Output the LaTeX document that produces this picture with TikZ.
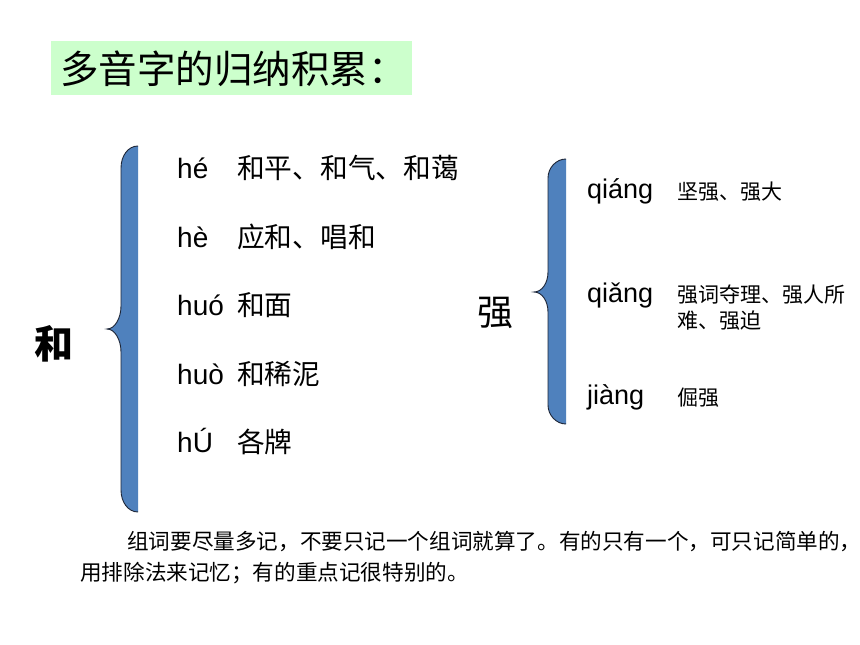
\documentclass[tikz,border=0pt]{standalone}
\usepackage{fontspec}
\setmainfont{Liberation Sans}
\newfontfamily\cjk{Noto Sans CJK SC}
\definecolor{bracefill}{RGB}{79,129,189}
\definecolor{braceline}{RGB}{30,38,55}
\definecolor{titlegreen}{RGB}{204,255,204}
\tikzset{
  py/.style={anchor=base west, inner sep=0pt, font=\fontsize{28}{32}\selectfont},
  cnbig/.style={anchor=base west, inner sep=0pt, font=\cjk\fontsize{27.7}{32}\selectfont},
  pyr/.style={anchor=base west, inner sep=0pt, font=\fontsize{27}{32}\selectfont},
  cnsmall/.style={anchor=base west, inner sep=0pt, font=\cjk\fontsize{21}{25}\selectfont},
  para/.style={anchor=base west, inner sep=0pt, font=\cjk\fontsize{21.6}{25}\selectfont},
  bracefillstyle/.style={fill=bracefill},
  bracelinestyle/.style={draw=braceline, line width=0.9pt},
}
\begin{document}
\begin{tikzpicture}[x=1pt,y=-1pt]
\useasboundingbox (0,0) rectangle (860,645);
\fill[white] (0,0) rectangle (860,645);

% title
\fill[titlegreen] (51,41) rectangle (412,95);
\node[anchor=base west, inner sep=0pt, font=\cjk\fontsize{38.5}{42}\selectfont] (title) at (60,83) {多音字的归纳积累：};

% left brace
\fill[bracefillstyle] (138,146) .. controls (128,146) and (121,156) .. (121,168) -- (121,306)
  .. controls (121,318) and (115,329) .. (107,329) .. controls (115,329) and (121,340) .. (121,352)
  -- (121,490) .. controls (121,502) and (128,512) .. (138,512) -- cycle;
\draw[bracelinestyle] (138,146) .. controls (128,146) and (121,156) .. (121,168) -- (121,306)
  .. controls (121,318) and (115,329) .. (107,329) .. controls (115,329) and (121,340) .. (121,352)
  -- (121,490) .. controls (121,502) and (128,512) .. (138,512);

% right brace
\fill[bracefillstyle] (566,159) .. controls (556,159) and (548,168) .. (548,178) -- (548,272)
  .. controls (548,283) and (542,292) .. (534,292) .. controls (542,292) and (548,301) .. (548,312)
  -- (548,405) .. controls (548,415) and (556,424) .. (566,424) -- cycle;
\draw[bracelinestyle] (566,159) .. controls (556,159) and (548,168) .. (548,178) -- (548,272)
  .. controls (548,283) and (542,292) .. (534,292) .. controls (542,292) and (548,301) .. (548,312)
  -- (548,405) .. controls (548,415) and (556,424) .. (566,424);

% big characters
\node[anchor=center, inner sep=0pt, font=\cjk\bfseries\fontsize{39}{44}\selectfont] (he) at (54,344) {和};
\node[anchor=center, inner sep=0pt, font=\cjk\fontsize{36}{40}\selectfont] (qiang) at (495,313) {强};

% left list
\node[py] (p1) at (177,178) {hé};
\node[cnbig] (c1) at (237,178) {和平、和气、和蔼};
\node[py] (p2) at (177,247) {hè};
\node[cnbig] (c2) at (237,247) {应和、唱和};
\node[py] (p3) at (177,315) {huó};
\node[cnbig] (c3) at (237,315) {和面};
\node[py] (p4) at (177,384) {huò};
\node[cnbig] (c4) at (237,384) {和稀泥};
\node[py] (p5) at (177,452) {hÚ};
\node[cnbig] (c5) at (237,452) {各牌};

% right list
\node[pyr] (q1) at (587,198) {qiáng};
\node[cnsmall] (d1) at (677,199) {坚强、强大};
\node[pyr] (q2) at (587,302) {qiǎng};
\node[cnsmall] (d2) at (677,302) {强词夺理、强人所};
\node[cnsmall] (d2b) at (677,328) {难、强迫};
\node[pyr] (q3) at (587,404) {jiàng};
\node[cnsmall] (d3) at (677,405) {倔强};

% paragraph
\node[para] (l1) at (127,549) {组词要尽量多记，不要只记一个组词就算了。有的只有一个，可只记简单的，};
\node[para] (l2) at (80,580) {用排除法来记忆；有的重点记很特别的。};
\end{tikzpicture}
\end{document}
